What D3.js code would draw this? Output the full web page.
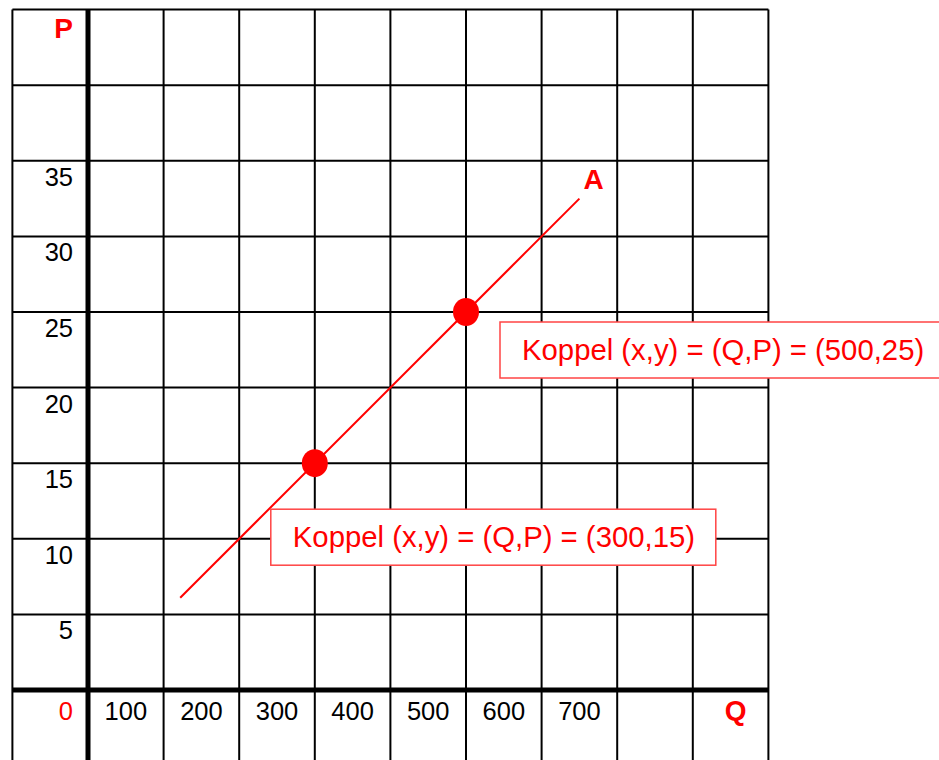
<!DOCTYPE html>
<html lang="nl">
<head>
<meta charset="utf-8">
<title>Koppels</title>
<script src="https://d3js.org/d3.v7.min.js"></script>
<style>
  body { margin: 0; background: #fff; }
  svg { display: block; font-family: "Liberation Sans", Arial, sans-serif; }
</style>
</head>
<body>
<div id="chart"></div>
<script>

// data
var qTicks = [100, 200, 300, 400, 500, 600, 700];
var pTicks = [5, 10, 15, 20, 25, 30, 35];
var gridQ = [-100, 0, 100, 200, 300, 400, 500, 600, 700, 800, 900];
var gridP = [-5, 0, 5, 10, 15, 20, 25, 30, 35, 40, 45];
var lineA = [[122, 6.1], [650, 32.5]];
var koppels = [[300, 15], [500, 25]];

var width = 939, height = 760;
var cell = 75.6;

var svg = d3.select("#chart")
  .append("svg")
    .attr("width", width)
    .attr("height", height);

// scales: 0 of Q at x=88, 0 of P at y=690
var x = d3.scaleLinear().domain([0, 900]).range([88, 88 + 9 * cell]);
var y = d3.scaleLinear().domain([0, 45]).range([690, 690 - 9 * cell]);

// grid
svg.append("g")
  .selectAll("line")
  .data(gridQ)
  .enter()
  .append("line")
    .attr("x1", function(d) { return x(d); })
    .attr("x2", function(d) { return x(d); })
    .attr("y1", y(45))
    .attr("y2", y(-5))
    .attr("stroke", "#000")
    .attr("stroke-width", function(d) { return d === 0 ? 5 : 2; });

svg.append("g")
  .selectAll("line")
  .data(gridP)
  .enter()
  .append("line")
    .attr("x1", x(-100))
    .attr("x2", x(900))
    .attr("y1", function(d) { return y(d); })
    .attr("y2", function(d) { return y(d); })
    .attr("stroke", "#000")
    .attr("stroke-width", function(d) { return d === 0 ? 5 : 2; });

// tick labels
svg.append("g")
  .selectAll("text")
  .data(qTicks)
  .enter()
  .append("text")
    .attr("x", function(d) { return x(d - 50); })
    .attr("y", y(0) + 30)
    .attr("text-anchor", "middle")
    .style("font-size", "25.5px")
    .text(function(d) { return d; });

svg.append("g")
  .selectAll("text")
  .data(pTicks)
  .enter()
  .append("text")
    .attr("x", x(0) - 15)
    .attr("y", function(d) { return y(d) + 25; })
    .attr("text-anchor", "end")
    .style("font-size", "25.5px")
    .text(function(d) { return d; });

svg.append("text")
  .attr("x", x(0) - 15)
  .attr("y", y(0) + 30)
  .attr("text-anchor", "end")
  .style("font-size", "25.5px")
  .style("fill", "red")
  .text("0");

// axis names
svg.append("text")
  .attr("x", x(0) - 15)
  .attr("y", y(45) + 28)
  .attr("text-anchor", "end")
  .style("font-size", "28px")
  .style("font-weight", "bold")
  .style("fill", "red")
  .text("P");

svg.append("text")
  .attr("x", x(800) + 32)
  .attr("y", y(0) + 30)
  .style("font-size", "28px")
  .style("font-weight", "bold")
  .style("fill", "red")
  .text("Q");

// line A
svg.append("line")
  .attr("x1", x(lineA[0][0]))
  .attr("y1", y(lineA[0][1]))
  .attr("x2", x(lineA[1][0]))
  .attr("y2", y(lineA[1][1]))
  .attr("stroke", "red")
  .attr("stroke-width", 2);

svg.append("text")
  .attr("x", x(lineA[1][0]) + 4)
  .attr("y", y(lineA[1][1]) - 10)
  .style("font-size", "28px")
  .style("font-weight", "bold")
  .style("fill", "red")
  .text("A");

// points
svg.append("g")
  .selectAll("ellipse")
  .data(koppels)
  .enter()
  .append("ellipse")
    .attr("cx", function(d) { return x(d[0]); })
    .attr("cy", function(d) { return y(d[1]); })
    .attr("rx", 13)
    .attr("ry", 14)
    .style("fill", "red");

// label boxes (offset from the point)
var offsets = [[-44, 46], [34, 10]];
var boxes = svg.append("g")
  .selectAll("g")
  .data(koppels)
  .enter()
  .append("g")
    .attr("transform", function(d, i) {
      return "translate(" + (x(d[0]) + offsets[i][0]) + "," + (y(d[1]) + offsets[i][1]) + ")";
    });

boxes.append("rect")
  .attr("width", 445)
  .attr("height", 56)
  .style("fill", "#fff")
  .style("stroke", "#f44")
  .style("stroke-width", 1.5);

boxes.append("text")
  .attr("x", 22)
  .attr("y", 38)
  .style("font-size", "29.3px")
  .style("fill", "red")
  .text(function(d) { return "Koppel (x,y) = (Q,P) = (" + d[0] + "," + d[1] + ")"; });

</script>
</body>
</html>
